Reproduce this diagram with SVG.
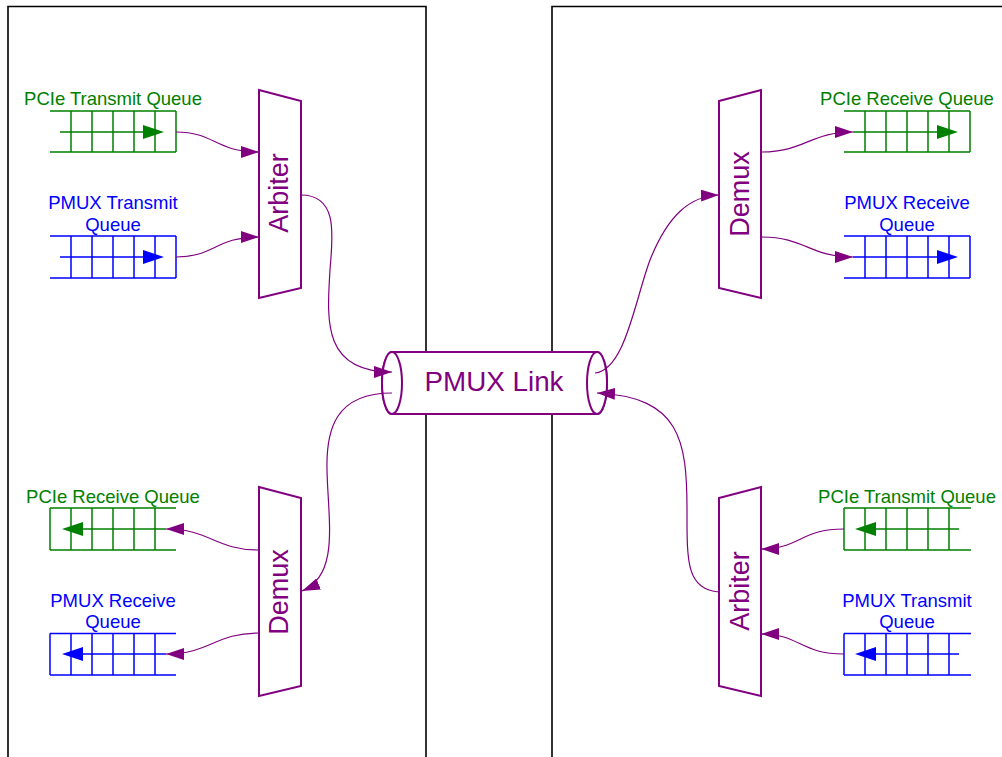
<svg xmlns="http://www.w3.org/2000/svg" width="1002" height="757" viewBox="0 0 1002 757">
<defs>
<style>
.box{fill:none;stroke:#000;stroke-width:1.6}
.mux{fill:#fff;stroke:#800080;stroke-width:2}
.mt{font-family:"Liberation Sans",Arial,sans-serif;font-size:27px;fill:#800080;text-anchor:middle}
.ql{font-family:"Liberation Sans",Arial,sans-serif;font-size:18.5px;text-anchor:middle}
.g{stroke:#008000;fill:none;stroke-width:1.5}
.b{stroke:#0000ff;fill:none;stroke-width:1.5}
.gf{fill:#008000}
.bf{fill:#0000ff}
.con{fill:none;stroke:#800080;stroke-width:1.2;marker-end:url(#ah)}
.cyl{fill:#fff;stroke:#800080;stroke-width:2}
</style>
<marker id="ah" markerUnits="userSpaceOnUse" markerWidth="18" markerHeight="12" refX="18" refY="6" orient="auto">
<path d="M0,0 L18,6 L0,12 Z" fill="#800080"/>
</marker>
</defs>
<rect width="1002" height="757" fill="#fff"/>
<g id="boxes">
<path class="box" d="M8,757 V6.5 H426 V757"/>
<path class="box" d="M552,757 V6.5 H1003"/>
</g>
<g id="link">
<path class="cyl" d="M392,352 L597,352 A10,31 0 0 1 597,414 L392,414 A10,31 0 0 1 392,352 Z"/>
<ellipse class="cyl" cx="392" cy="383" rx="10" ry="31" fill="none"/>
<ellipse class="cyl" cx="597" cy="383" rx="10" ry="31" fill="none"/>
<text class="mt" x="494" y="391" style="font-size:27.8px">PMUX Link</text>
</g>
<g id="arbiter-left">
<path class="mux" d="M259,90 L301,101 L301,288 L259,298 Z"/>
<text class="mt" transform="translate(288,193) rotate(-90)">Arbiter</text>
</g>
<g id="demux-left">
<path class="mux" d="M259,487 L301,498 L301,686 L259,696 Z"/>
<text class="mt" transform="translate(287.5,592) rotate(-90)">Demux</text>
</g>
<g id="demux-right">
<path class="mux" d="M719,101 L761,90 L761,298 L719,288 Z"/>
<text class="mt" transform="translate(748.5,194) rotate(-90)">Demux</text>
</g>
<g id="arbiter-right">
<path class="mux" d="M719,498 L761,487 L761,696 L719,686 Z"/>
<text class="mt" transform="translate(748.5,591) rotate(-90)">Arbiter</text>
</g>
<g id="q-pcie-tx-left">
<text class="ql" x="113" y="105" fill="#008000">PCIe Transmit Queue</text>
<path class="g" d="M50,111 H176 M50,152 H176 M71,111 V152 M92,111 V152 M113,111 V152 M134,111 V152 M155,111 V152 M176,111 V152 M60,132 H145"/>
<path class="gf" d="M143,125 L164,132 L143,139 Z"/>
</g>
<g id="q-pmux-tx-left">
<text class="ql" x="113" y="209" fill="#0000ff">PMUX Transmit</text>
<text class="ql" x="113" y="231" fill="#0000ff">Queue</text>
<path class="b" d="M50,236 H176 M50,278 H176 M71,236 V278 M92,236 V278 M113,236 V278 M134,236 V278 M155,236 V278 M176,236 V278 M60,257 H145"/>
<path class="bf" d="M143,250 L164,257 L143,264 Z"/>
</g>
<g id="q-pcie-rx-left">
<text class="ql" x="113" y="503" fill="#008000">PCIe Receive Queue</text>
<path class="g" d="M50,508 H176 M50,550 H176 M50,508 V550 M71,508 V550 M92,508 V550 M113,508 V550 M134,508 V550 M155,508 V550 M81,529 H166"/>
<path class="gf" d="M83,522 L62,529 L83,536 Z"/>
</g>
<g id="q-pmux-rx-left">
<text class="ql" x="113" y="607" fill="#0000ff">PMUX Receive</text>
<text class="ql" x="113" y="628" fill="#0000ff">Queue</text>
<path class="b" d="M50,633.5 H176 M50,675 H176 M50,633.5 V675 M71,633.5 V675 M92,633.5 V675 M113,633.5 V675 M134,633.5 V675 M155,633.5 V675 M81,654 H166"/>
<path class="bf" d="M83,647 L62,654 L83,661 Z"/>
</g>
<g id="q-pcie-rx-right">
<text class="ql" x="907" y="105" fill="#008000">PCIe Receive Queue</text>
<path class="g" d="M844,111 H970 M844,152 H970 M865,111 V152 M886,111 V152 M907,111 V152 M928,111 V152 M949,111 V152 M970,111 V152 M853,132 H939"/>
<path class="gf" d="M937,125 L958,132 L937,139 Z"/>
</g>
<g id="q-pmux-rx-right">
<text class="ql" x="907" y="209" fill="#0000ff">PMUX Receive</text>
<text class="ql" x="907" y="231" fill="#0000ff">Queue</text>
<path class="b" d="M844,236 H970 M844,278 H970 M865,236 V278 M886,236 V278 M907,236 V278 M928,236 V278 M949,236 V278 M970,236 V278 M853,257 H939"/>
<path class="bf" d="M937,250 L958,257 L937,264 Z"/>
</g>
<g id="q-pcie-tx-right">
<text class="ql" x="907" y="503" fill="#008000">PCIe Transmit Queue</text>
<path class="g" d="M844,508 H971 M844,550 H971 M844,508 V550 M865,508 V550 M886,508 V550 M907,508 V550 M928,508 V550 M949,508 V550 M874,529 H959"/>
<path class="gf" d="M876,522 L855,529 L876,536 Z"/>
</g>
<g id="q-pmux-tx-right">
<text class="ql" x="907" y="607" fill="#0000ff">PMUX Transmit</text>
<text class="ql" x="907" y="628" fill="#0000ff">Queue</text>
<path class="b" d="M844,633.5 H971 M844,675 H971 M844,633.5 V675 M865,633.5 V675 M886,633.5 V675 M907,633.5 V675 M928,633.5 V675 M949,633.5 V675 M874,654 H959"/>
<path class="bf" d="M876,647 L855,654 L876,661 Z"/>
</g>
<g id="connectors">
<path class="con" d="M176,132 C215,132 215,152 259,152"/>
<path class="con" d="M176,257 C215,257 215,237 259,237"/>
<path class="con" d="M301,195 C340,195 332,240 330,270 C327,320 322,372 392,372"/>
<path class="con" d="M392,393 C335,393 326,430 327,470 C328,520 340,575 302,591"/>
<path class="con" d="M259,550 C215,550 210,529 166,529"/>
<path class="con" d="M259,633 C215,633 210,654 166,654"/>
<path class="con" d="M595,373 C625,370 635,300 650,260 C668,215 690,196 719,195"/>
<path class="con" d="M761,152 C805,152 810,132 853,132"/>
<path class="con" d="M761,237 C805,237 810,257 853,257"/>
<path class="con" d="M844,529 C800,529 800,549 761,549"/>
<path class="con" d="M844,654 C800,654 800,634 761,634"/>
<path class="con" d="M719,592 C686,590 687,560 687,510 C687,440 680,397 597,393"/>
</g>
</svg>
